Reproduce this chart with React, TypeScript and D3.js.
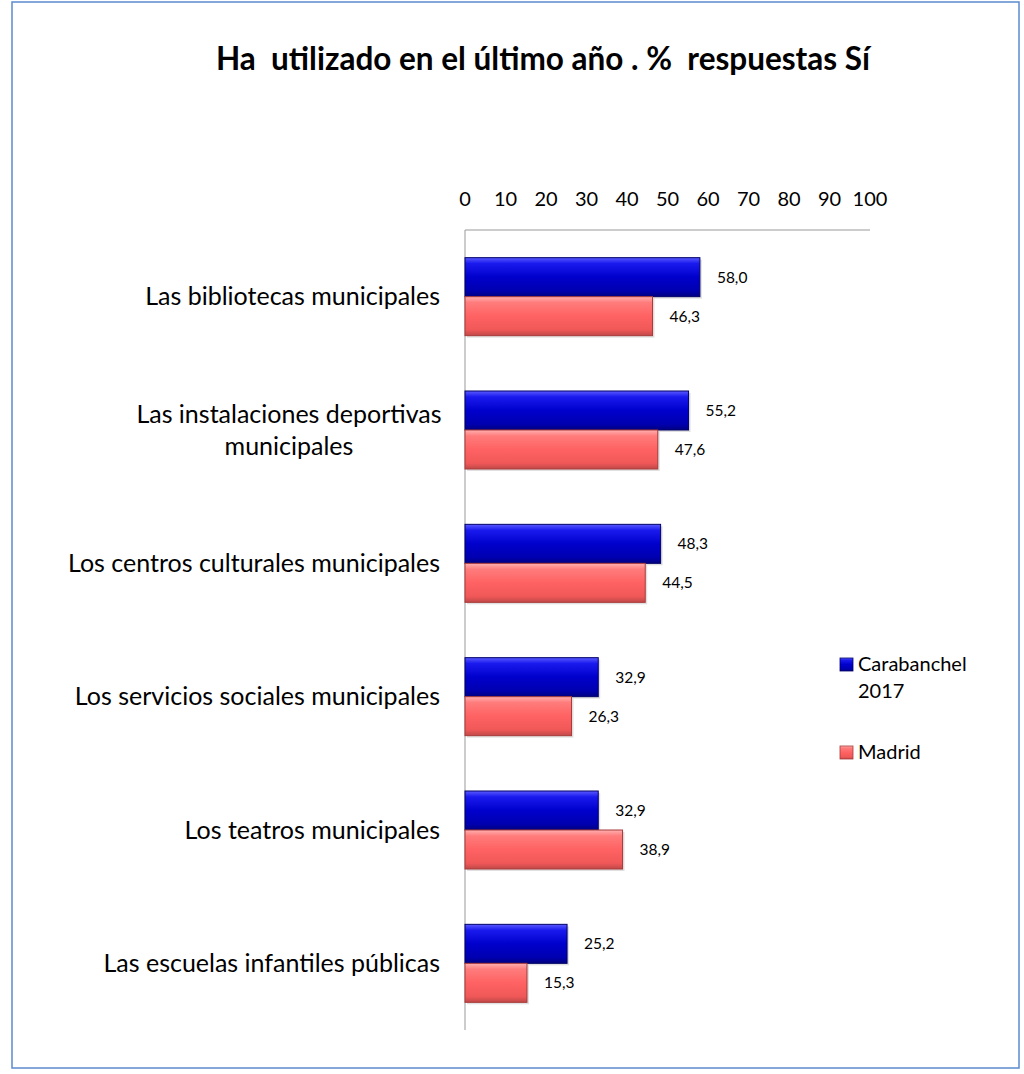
import React from "react";
import * as d3 from "d3";

const categories = [
  ["Las bibliotecas municipales"],
  ["Las instalaciones deportivas", "municipales"],
  ["Los centros culturales municipales"],
  ["Los servicios sociales municipales"],
  ["Los teatros municipales"],
  ["Las escuelas infantiles públicas"],
];
const carabanchel = [58.0, 55.2, 48.3, 32.9, 32.9, 25.2];
const madrid = [46.3, 47.6, 44.5, 26.3, 38.9, 15.3];
const ticks = [0, 10, 20, 30, 40, 50, 60, 70, 80, 90, 100];
const seriesNames = [["Carabanchel", "2017"], ["Madrid"]];
const title = "Ha  utilizado en el último año . %  respuestas Sí";

const FONT = "Lato, 'Open Sans', sans-serif";

export default function App() {
  const W = 1024, H = 1074;
  const x = d3.scaleLinear().domain([0, 100]).range([465, 870]);
  const y = d3.scaleBand<number>().domain(d3.range(categories.length)).range([230, 1030]).paddingInner(0.415).paddingOuter(0.2075);
  const inner = d3.scaleBand<number>().domain([0, 1]).range([0, y.bandwidth()]);
  const fmt = (v: number) => v.toFixed(1).replace(".", ",");
  const series = [
    { vals: carabanchel, grad: "gBlue", stroke: "#00006a" },
    { vals: madrid, grad: "gRed", stroke: "#a83a3a" },
  ];
  return (
    <svg width={W} height={H} style={{ display: "block", position: "absolute", left: 0, top: 0 }}>
      <defs>
        <linearGradient id="gBlue" x1="0" y1="0" x2="0" y2="1">
          <stop offset="0" stopColor="#5a5aff" />
          <stop offset="0.15" stopColor="#1a1aee" />
          <stop offset="0.5" stopColor="#0000cc" />
          <stop offset="0.85" stopColor="#0000b0" />
          <stop offset="1" stopColor="#000080" />
        </linearGradient>
        <linearGradient id="gRed" x1="0" y1="0" x2="0" y2="1">
          <stop offset="0" stopColor="#ffb0b0" />
          <stop offset="0.15" stopColor="#ff7c7c" />
          <stop offset="0.5" stopColor="#ff6262" />
          <stop offset="0.85" stopColor="#f05858" />
          <stop offset="1" stopColor="#c04848" />
        </linearGradient>
      </defs>
      <rect x={12} y={2} width={1007} height={1066} fill="white" stroke="#5b8bd0" strokeWidth={1.5} />
      <text x={543} y={70} textAnchor="middle" fontFamily={FONT} fontWeight="bold" fontSize={31.5} fill="#000" style={{ whiteSpace: "pre" }}>{title}</text>
      {ticks.map((t) => (
        <text key={t} x={x(t)} y={206} textAnchor="middle" fontFamily={FONT} fontSize={20} fill="#000">{t}</text>
      ))}
      <line x1={x(0)} x2={x(100)} y1={230} y2={230} stroke="#999" />
      <line x1={x(0)} x2={x(0)} y1={230} y2={1030} stroke="#999" />
      {categories.map((lines, i) => {
        const cy = (y(i) as number) + y.bandwidth() / 2;
        const lh = 32;
        const wide = lines.length > 1;
        return (
          <text key={i} fontFamily={FONT} fontSize={25} fill="#000" textAnchor={wide ? "middle" : "end"}>
            {lines.map((l, j) => (
              <tspan key={j} x={wide ? 289 : 440} y={cy + 8.5 + (j - (lines.length - 1) / 2) * lh}>{l}</tspan>
            ))}
          </text>
        );
      })}
      {series.map((s, si) =>
        s.vals.map((v, i) => {
          const by = (y(i) as number) + (inner(si) as number);
          const bh = inner.bandwidth();
          return (
            <g key={`${si}-${i}`}>
              <rect x={x(0) + 2} y={by + 2} width={x(v) - x(0)} height={bh} fill="#000" opacity={0.12} />
              <rect x={x(0)} y={by} width={x(v) - x(0)} height={bh} fill={`url(#${s.grad})`} stroke={s.stroke} strokeWidth={1} />
              <text x={x(v) + 17} y={by + bh / 2 + 5.5} fontFamily={FONT} fontSize={15.5} fill="#000">{fmt(v)}</text>
            </g>
          );
        })
      )}
      {seriesNames.map((lines, si) => {
        const base = si === 0 ? 671 : 759;
        return (
          <g key={si}>
            <rect x={840} y={base - 13} width={13} height={13} fill={`url(#${series[si].grad})`} stroke={series[si].stroke} strokeWidth={0.8} />
            <text fontFamily={FONT} fontSize={20} fill="#000">
              {lines.map((l, j) => (
                <tspan key={j} x={858} y={base + j * 27}>{l}</tspan>
              ))}
            </text>
          </g>
        );
      })}
    </svg>
  );
}
